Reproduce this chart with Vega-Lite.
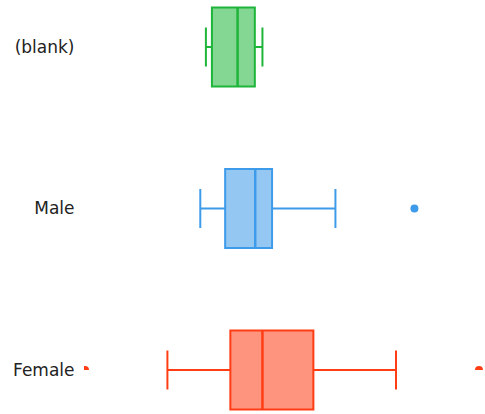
{
  "$schema": "https://vega.github.io/schema/vega-lite/v6.json",
  "width": 401,
  "height": 323,
  "autosize": {"type": "none"},
  "padding": {"left": 84, "top": 47, "right": 0, "bottom": 44},
  "background": "white",
  "config": {"view": {"stroke": null}},
  "datasets": {
    "boxes": [
      {"gender": "(blank)", "lower": 30.4, "q1": 31.9, "median": 38.3, "q3": 42.6, "upper": 44.5},
      {"gender": "Male", "lower": 29.0, "q1": 35.2, "median": 42.7, "q3": 46.9, "upper": 62.7},
      {"gender": "Female", "lower": 20.8, "q1": 36.5, "median": 44.5, "q3": 57.2, "upper": 77.8}
    ],
    "outliers": [
      {"gender": "Male", "value": 82.4},
      {"gender": "Female", "value": 0.25},
      {"gender": "Female", "value": 98.5}
    ]
  },
  "encoding": {
    "y": {
      "field": "gender", "type": "nominal",
      "scale": {"type": "point", "padding": 0, "domain": ["(blank)", "Male", "Female"]},
      "axis": {"title": null, "domain": false, "ticks": false, "grid": false, "labelPadding": 10, "labelFont": "DejaVu Sans", "labelFontSize": 17, "labelColor": "#222222"}
    },
    "color": {
      "field": "gender", "type": "nominal", "legend": null,
      "scale": {"domain": ["(blank)", "Male", "Female"], "range": ["#1fb53a", "#3d9be9", "#ff3d14"]}
    }
  },
  "layer": [
    {
      "data": {"name": "boxes"},
      "mark": {"type": "rule", "strokeWidth": 2},
      "encoding": {
        "x": {"field": "lower", "type": "quantitative", "scale": {"domain": [0, 100], "nice": false, "zero": false}, "axis": null},
        "x2": {"field": "q1"}
      }
    },
    {
      "data": {"name": "boxes"},
      "mark": {"type": "rule", "strokeWidth": 2},
      "encoding": {
        "x": {"field": "q3", "type": "quantitative"},
        "x2": {"field": "upper"}
      }
    },
    {
      "data": {"name": "boxes"},
      "mark": {"type": "tick", "thickness": 2, "size": 39, "opacity": 1},
      "encoding": {"x": {"field": "lower", "type": "quantitative"}}
    },
    {
      "data": {"name": "boxes"},
      "mark": {"type": "tick", "thickness": 2, "size": 39, "opacity": 1},
      "encoding": {"x": {"field": "upper", "type": "quantitative"}}
    },
    {
      "data": {"name": "boxes"},
      "mark": {"type": "bar", "size": 79, "strokeWidth": 2, "fillOpacity": 0.55},
      "encoding": {
        "x": {"field": "q1", "type": "quantitative"},
        "x2": {"field": "q3"},
        "stroke": {"field": "gender", "type": "nominal", "legend": null, "scale": {"domain": ["(blank)", "Male", "Female"], "range": ["#1fb53a", "#3d9be9", "#ff3d14"]}}
      }
    },
    {
      "data": {"name": "boxes"},
      "mark": {"type": "tick", "thickness": 2.5, "size": 79, "opacity": 1},
      "encoding": {"x": {"field": "median", "type": "quantitative"}}
    },
    {
      "data": {"name": "outliers"},
      "mark": {"type": "point", "filled": true, "size": 64, "opacity": 1, "clip": true},
      "encoding": {"x": {"field": "value", "type": "quantitative"}}
    }
  ]
}
